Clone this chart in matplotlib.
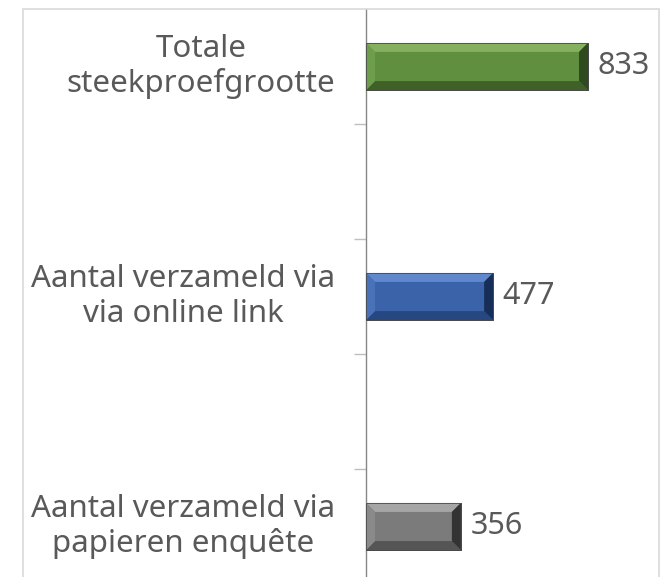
import matplotlib
matplotlib.use("Agg")
import matplotlib.pyplot as plt
from matplotlib.patches import Polygon, Rectangle
import numpy as np

categories = ["Totale\nsteekproefgrootte",
              "Aantal verzameld via\nvia online link",
              "Aantal verzameld via\npapieren enquête"]
values = [833, 477, 356]

# main, top bevel, bottom bevel, left bevel, right bevel
bar_colors = [
    ("#5f8f3f", "#84b05f", "#3f6128", "#6e9d4b", "#2f4a1e"),
    ("#3b63aa", "#6088cc", "#274780", "#4a72b8", "#172f58"),
    ("#7b7b7b", "#a6a6a6", "#555555", "#8a8a8a", "#333333"),
]

TEXT = "#595959"
plt.rcParams["font.family"] = ["Noto Sans", "DejaVu Sans"]

fig = plt.figure(figsize=(6.64, 5.77), dpi=100)
ax = fig.add_axes([366 / 664, -7 / 577, 266.5 / 664, 575 / 577])

# chart area border
fig.patches.append(Rectangle((23 / 664, -0.05), 636 / 664, 1.05 - 9 / 577,
                             transform=fig.transFigure, fill=False,
                             edgecolor="#d9d9d9", lw=1.2, zorder=0))

pos = np.arange(len(values)) * 2
h = 0.41
xmax = 1000
ax.set_xlim(0, xmax)
ax.set_ylim(4.5, -0.5)

# bevel size, in data units
bx = 9 / 266.5 * xmax
by = 9 / 115

for y, v, c in zip(pos, values, bar_colors):
    main, top, bot, left, right = c
    y0, y1 = y - h / 2, y + h / 2
    ax.add_patch(Rectangle((0, y0), v, h, facecolor=main, edgecolor="#3a3a3a",
                           lw=0.6, zorder=2))
    ax.add_patch(Polygon([(0, y0), (v, y0), (v - bx, y0 + by), (bx, y0 + by)],
                         closed=True, facecolor=top, lw=0, zorder=3))
    ax.add_patch(Polygon([(0, y1), (v, y1), (v - bx, y1 - by), (bx, y1 - by)],
                         closed=True, facecolor=bot, lw=0, zorder=3))
    ax.add_patch(Polygon([(0, y0), (bx, y0 + by), (bx, y1 - by), (0, y1)],
                         closed=True, facecolor=left, lw=0, zorder=3))
    ax.add_patch(Polygon([(v, y0), (v - bx, y0 + by), (v - bx, y1 - by), (v, y1)],
                         closed=True, facecolor=right, lw=0, zorder=3))
    ax.add_patch(Rectangle((0, y0), v, h, fill=False, edgecolor="#4a4a4a",
                           lw=0.6, zorder=4))
    ax.annotate(str(v), (v, y), xytext=(7, 0), textcoords="offset points",
                ha="left", va="center", fontsize=22, color=TEXT)

ax.set_yticks(pos, categories)
ax.set_yticks(list(pos + 0.5) + list(pos[:-1] + 1.5), minor=True)
ax.tick_params(axis="y", which="major", length=0, pad=22, labelsize=22.5,
               labelcolor=TEXT)
ax.tick_params(axis="y", which="minor", length=8.6, width=1, color="#bfbfbf")
for lbl in ax.get_yticklabels():
    lbl.set_multialignment("center")
    lbl.set_verticalalignment("center")

ax.set_xticks([])
for s in ["top", "right", "bottom"]:
    ax.spines[s].set_visible(False)
ax.spines["left"].set_color("#868686")
ax.spines["left"].set_linewidth(1)
ax.patch.set_visible(False)

fig.savefig("out.png", dpi=100)
